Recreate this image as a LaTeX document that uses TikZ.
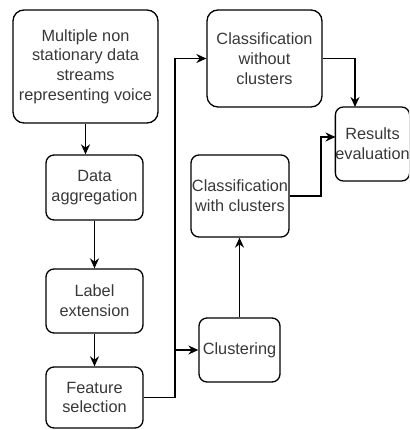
\documentclass[tikz,border=0pt]{standalone}
\usepackage{fontspec}
\setmainfont{Liberation Sans}
\usetikzlibrary{arrows.meta}
\definecolor{txt}{gray}{0.22}
\tikzset{
  box/.style={draw=black, line width=1.3pt, rounded corners=11pt, align=center,
    text=txt, font=\fontsize{16.3}{19.7}\selectfont, inner sep=0pt},
  arr/.style={draw=black, line width=1.3pt, -{Stealth[length=10pt,width=9pt]}},
  ln/.style={draw=black, line width=1.3pt}
}
\begin{document}
\begin{tikzpicture}[x=1pt,y=-1pt]
\useasboundingbox (0,0) rectangle (409,430);
\clip (0,0) rectangle (409,430);
\node[box, minimum width=145pt, minimum height=113pt] (n1) at (85.5,66.5) {Multiple non\\stationary data\\streams\\representing voice};
\node[box, rounded corners=8pt, minimum width=97pt, minimum height=65pt] (agg) at (94.5,187.5) {Data\\aggregation};
\node[box, rounded corners=8pt, minimum width=97pt, minimum height=64pt] (lab) at (94.5,301) {Label\\extension};
\node[box, rounded corners=8pt, minimum width=97pt, minimum height=61pt] (feat) at (94.5,397.5) {Feature\\selection};
\node[box, rounded corners=8pt, minimum width=81pt, minimum height=64pt] (clu) at (239.5,350) {Clustering};
\node[box, rounded corners=8pt, minimum width=98pt, minimum height=82pt] (cwc) at (240,196) {Classification\\with clusters};
\node[box, minimum width=115pt, minimum height=97pt] (cwo) at (264.5,58.5) {Classification\\without\\clusters};
\node[box, rounded corners=8pt, minimum width=74pt, minimum height=74pt] (res) at (372.5,144) {Results\\evaluation};
\coordinate (br) at (175,350);
\coordinate (r1) at (335.5,137);
\coordinate (r2) at (355,107);
\draw[arr] (n1.south) -- (n1.south |- agg.north);
\draw[arr] (agg.south) -- (lab.north);
\draw[arr] (lab.south) -- (feat.north);
\draw[arr] (feat.east) -| (br) |- (cwo.west);
\draw[arr] (br) -- (clu.west);
\draw[arr] (clu.north) -- (clu.north |- cwc.south);
\draw[arr] (cwc.east) -| ([xshift=-14.5pt]r1) -- (r1);
\draw[arr] (cwo.east) -| (r2);
\end{tikzpicture}
\end{document}
